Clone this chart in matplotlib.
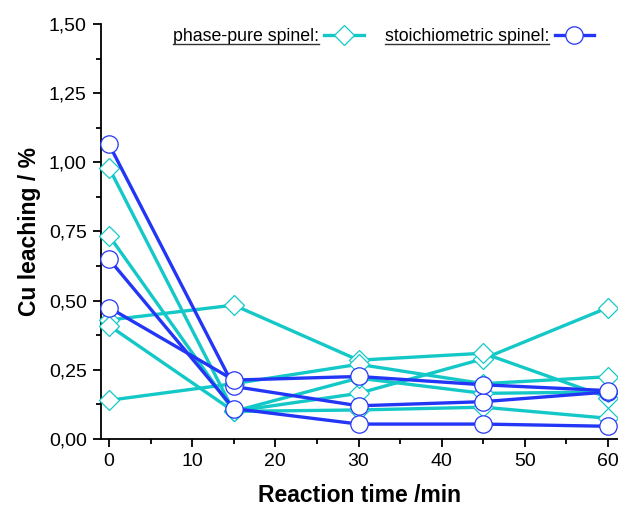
import matplotlib
matplotlib.use('Agg')
import matplotlib.pyplot as plt
from matplotlib.lines import Line2D
from matplotlib.ticker import MultipleLocator, FuncFormatter

plt.rcParams['font.family'] = ['Liberation Sans', 'DejaVu Sans']

# reaction time (min)
time_min = [0, 15, 30, 45, 60]

# Cu leaching (%) - phase-pure spinel runs
pure_1 = [0.98, 0.10, 0.165, 0.29, 0.475]
pure_2 = [0.735, 0.10, 0.105, 0.115, 0.075]
pure_3 = [0.43, 0.484, 0.285, 0.31, 0.15]
pure_4 = [0.41, 0.10, 0.22, 0.165, 0.17]
pure_5 = [0.14, 0.20, 0.27, 0.20, 0.225]

# Cu leaching (%) - stoichiometric spinel runs
stoich_1 = [1.065, 0.19, 0.12, 0.135, 0.17]
stoich_2 = [0.65, 0.11, 0.054, 0.054, 0.046]
stoich_3 = [0.475, 0.213, 0.226, 0.196, 0.175]

pure_runs = [pure_1, pure_2, pure_3, pure_4, pure_5]
stoich_runs = [stoich_1, stoich_2, stoich_3]

CYAN = '#14C8C8'
BLUE = '#2436F5'

fig = plt.figure(figsize=(6.18, 5.08), dpi=100)
ax = fig.add_axes([0.163, 0.1358, 0.837, 0.817])

for run in pure_runs:
    ax.plot(time_min, run, color=CYAN, lw=2.4, marker='D', ms=10.5,
            mfc='white', mec=CYAN, mew=0.9, clip_on=False, zorder=3)
for run in stoich_runs:
    ax.plot(time_min, run, color=BLUE, lw=2.4, marker='o', ms=12.5,
            mfc='white', mec=BLUE, mew=0.9, clip_on=False, zorder=4)

ax.set_xlim(-1, 61.2)
ax.set_ylim(0, 1.5)
ax.xaxis.set_major_locator(MultipleLocator(10))
ax.xaxis.set_minor_locator(MultipleLocator(5))
ax.yaxis.set_major_locator(MultipleLocator(0.25))
ax.yaxis.set_minor_locator(MultipleLocator(0.125))
ax.yaxis.set_major_formatter(FuncFormatter(lambda v, p: f'{v:.2f}'.replace('.', ',')))

for s in ('top', 'right'):
    ax.spines[s].set_visible(False)
for s in ('left', 'bottom'):
    ax.spines[s].set_linewidth(1.3)
ax.tick_params(which='major', direction='out', length=6, width=1.3, labelsize=14, pad=4)
ax.tick_params(which='minor', direction='out', length=3.5, width=1.3)

ax.set_xlabel('Reaction time /min', fontsize=16.5, fontweight='bold', labelpad=10)
ax.set_ylabel('Cu leaching / %', fontsize=16.5, fontweight='bold', labelpad=6)

handles = [
    Line2D([], [], color=CYAN, lw=2.4, marker='D', ms=10.5, mfc='white', mec=CYAN, mew=0.9),
    Line2D([], [], color=BLUE, lw=2.4, marker='o', ms=12.5, mfc='white', mec=BLUE, mew=0.9),
]
leg = ax.legend(handles, ['phase-pure spinel:', 'stoichiometric spinel:'],
                markerfirst=False, ncol=2, frameon=False, fontsize=12.8,
                handlelength=2.2, handletextpad=0.3, columnspacing=1.2,
                borderpad=0, borderaxespad=0,
                loc='center right', bbox_to_anchor=(0.953, 0.97))

# underline the legend labels like the original
fig.canvas.draw()
inv = fig.transFigure.inverted()
for t in leg.get_texts():
    bb = t.get_window_extent()
    (x0, y0), (x1, _) = inv.transform([[bb.x0, bb.y0 + 1], [bb.x1, bb.y0 + 1]])
    fig.add_artist(Line2D([x0, x1], [y0, y0], transform=fig.transFigure,
                          color='#333333', lw=1.0))

fig.savefig('out.png', dpi=100)
